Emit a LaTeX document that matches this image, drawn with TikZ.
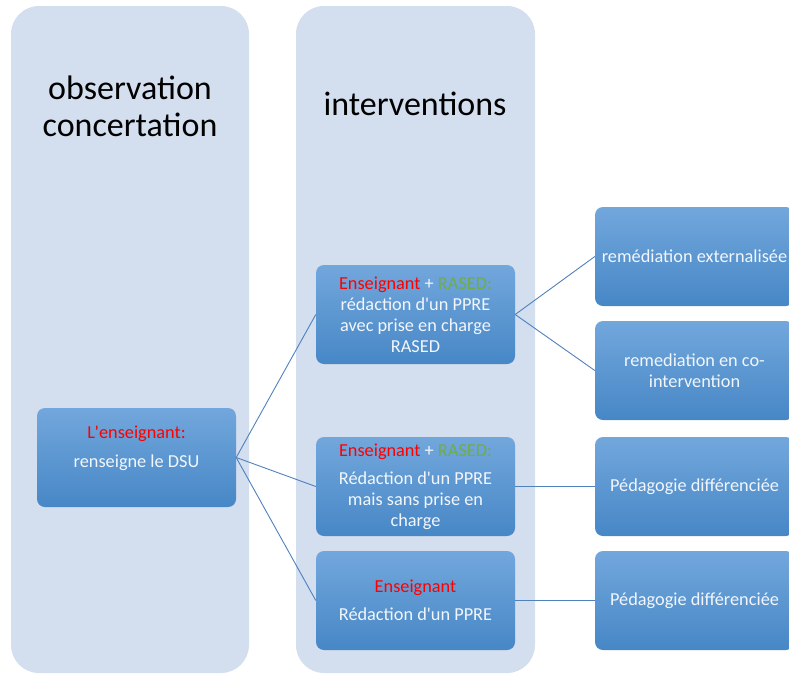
\documentclass[tikz,border=0pt]{standalone}
\usepackage{fontspec}
\setmainfont{Carlito}[Ligatures=TeXOff]
\definecolor{colbg}{HTML}{D3DEEF}
\definecolor{boxtop}{HTML}{72A7DC}
\definecolor{boxbot}{HTML}{4787C6}
\definecolor{linec}{HTML}{4F81BD}
\definecolor{txtred}{HTML}{FF0000}
\definecolor{txtgreen}{HTML}{70AD47}
\definecolor{txtw}{HTML}{F2F6FB}
\begin{document}
\begin{tikzpicture}[x=1pt,y=-1pt,
  colbox/.style={fill=colbg, rounded corners=28pt},
  coltitle/.style={text=black, align=center, font=\fontsize{34}{37}\selectfont, inner sep=0pt},
  box/.style={rectangle, rounded corners=8pt, minimum width=199pt, minimum height=99pt,
    top color=boxtop, bottom color=boxbot, text=txtw, align=center, inner sep=1pt,
    font=\fontsize{18.3}{21}\selectfont},
  conn/.style={draw=linec, line width=0.9pt},
]
\useasboundingbox (0,0) rectangle (789,675);
\clip (0,0) rectangle (789,675);
% columns
\fill[colbox] (11,6) rectangle (249,673);
\fill[colbox] (296,6) rectangle (535,673);
\node[coltitle] (t1) at (130,106) {observation\\concertation};
\node[coltitle] (t2) at (415,104) {interventions};
% boxes
\node[box] (L) at (136.5,457.5) {\textcolor{txtred}{L'enseignant:}\\[8pt]renseigne le DSU\\[0pt]\mbox{}};
\node[box] (A) at (415.5,314.5) {\textcolor{txtred}{Enseignant} + \textcolor{txtgreen}{RASED:}\\rédaction d'un PPRE\\avec prise en charge\\RASED};
\node[box] (B) at (415.5,486.5) {\textcolor{txtred}{Enseignant} + \textcolor{txtgreen}{RASED:}\\[7pt]Rédaction d'un PPRE\\mais sans prise en\\charge};
\node[box] (C) at (415.5,600.5) {\textcolor{txtred}{Enseignant}\\[7pt]Rédaction d'un PPRE};
\node[box] (R1) at (694.5,256.5) {remédiation externalisée};
\node[box] (R2) at (694.5,370.5) {remediation en co-\\intervention};
\node[box] (R3) at (694.5,486.5) {Pédagogie différenciée};
\node[box] (R4) at (694.5,600.5) {Pédagogie différenciée};
% connectors
\draw[conn] (L.east) -- (A.west);
\draw[conn] (L.east) -- (B.west);
\draw[conn] (L.east) -- (C.west);
\draw[conn] (A.east) -- (R1.west);
\draw[conn] (A.east) -- (R2.west);
\draw[conn] (B.east) -- (R3.west);
\draw[conn] (C.east) -- (R4.west);
\end{tikzpicture}
\end{document}
